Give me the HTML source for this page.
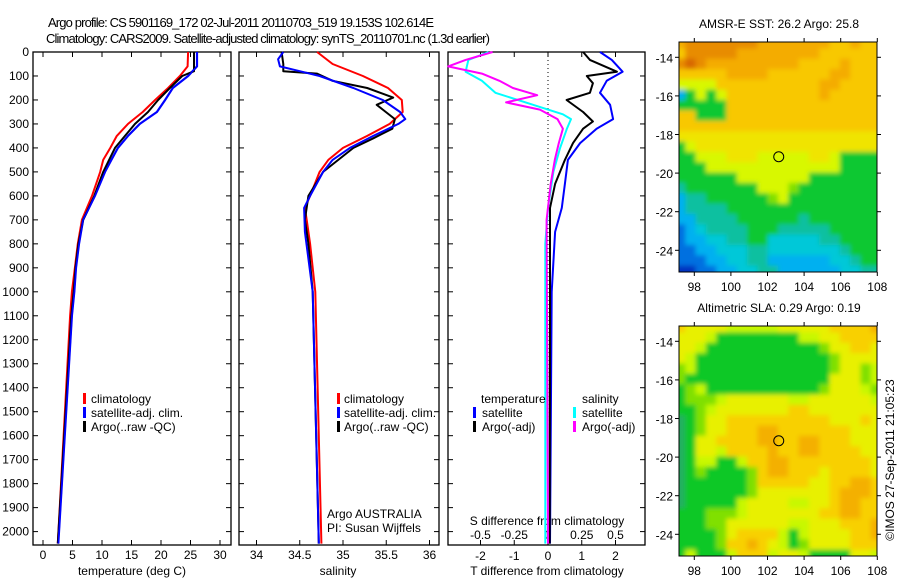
<!DOCTYPE html>
<html><head><meta charset="utf-8">
<style>
html,body{margin:0;padding:0;background:#fff;}
svg{display:block;font-family:"Liberation Sans",sans-serif;}
text{fill:#000;}
</style></head>
<body>
<svg id="chart" width="900" height="580" viewBox="0 0 900 580" xmlns="http://www.w3.org/2000/svg">
<defs>
<filter id="blur" x="-5%" y="-5%" width="110%" height="110%"><feGaussianBlur stdDeviation="2.5"/></filter>
<clipPath id="clip1"><rect x="679" y="42" width="198" height="230"/></clipPath>
<clipPath id="clip2"><rect x="679" y="326" width="198" height="230"/></clipPath>
</defs>
<text x="48" y="27" font-size="13" textLength="386">Argo profile: CS 5901169_172 02-Jul-2011 20110703_519 19.153S 102.614E</text>
<text x="46" y="43" font-size="13" textLength="444">Climatology: CARS2009. Satellite-adjusted climatology: synTS_20110701.nc (1.3d earlier)</text>
<g id="g1"></g>
<g id="g2"></g>
<g id="g3"></g>
<g id="m1"></g>
<g id="m2"></g>
<text x="894" y="460" font-size="12" text-anchor="middle" transform="rotate(-90 894 460)">©IMOS 27-Sep-2011 21:05:23</text>
</svg>
<script>
// ---- data ----
const tempDepth = [0,60,100,150,200,250,300,350,400,450,500,600,700,800,900,1000,1100,2050];
const tempClim  = [24.6,24.5,23.2,21.2,19.0,16.9,14.4,12.5,11.4,10.2,9.7,8.3,6.6,5.9,5.4,4.9,4.6,2.5];
const tempSat   = [26.1,26.1,24.6,22.0,20.7,19.3,16.4,14.4,12.7,11.6,10.5,8.8,6.8,6.1,5.6,5.3,4.9,2.6];
const argoDepth = [0,80,100,150,200,250,300,350,400,500,600,700,800,900,1000,1100,2050];
const tempArgo  = [25.6,25.6,23.6,21.5,19.5,17.8,15.6,13.9,12.2,10.2,8.7,6.8,6.0,5.5,5.2,4.8,2.5];
const salDepth  = [0,50,100,150,200,250,300,350,400,450,500,600,650,700,800,1000,2050];
const salClim   = [34.70,34.88,35.23,35.52,35.68,35.69,35.54,35.28,35.00,34.83,34.73,34.62,34.56,34.58,34.62,34.68,34.75];
const salSatDepth = [0,30,60,80,100,150,200,250,280,300,350,400,450,500,600,650,750,1000,2050];
const salSat    = [34.31,34.25,34.27,34.50,34.73,35.12,35.46,35.66,35.72,35.64,35.35,35.08,34.88,34.77,34.62,34.55,34.56,34.65,34.72];
const salArgoDepth = [0,50,80,90,120,150,190,220,240,280,320,360,400,500,600,700,800,1000,2050];
const salArgo   = [34.29,34.31,34.31,34.70,34.88,35.28,35.58,35.39,35.46,35.60,35.57,35.35,35.12,34.77,34.60,34.56,34.60,34.65,34.72];
const dTDepth   = [0,33,82,120,170,220,280,320,380,450,550,650,750,1000,2050];
const dTSat     = [1.54,1.89,2.21,1.74,1.54,1.84,1.93,1.44,0.95,0.59,0.50,0.41,0.21,0.11,0.06];
const dTArgoDepth = [0,33,82,100,130,170,200,250,290,320,380,450,550,650,800,1000,2050];
const dTArgo    = [1.04,1.24,2.04,1.15,1.33,1.24,0.55,1.04,1.33,1.04,0.74,0.50,0.21,0.06,0.06,0.06,0.05];
const dSArgoDepth = [0,33,60,90,120,150,180,210,240,280,320,380,450,550,700,2050];
const dSArgo    = [-0.41,-0.61,-0.74,-0.49,-0.36,-0.26,-0.08,-0.31,-0.06,0.07,0.11,0.08,0.05,0.02,-0.01,0.0];
const dSSatDepth = [0,33,82,120,170,220,260,280,320,400,500,650,800,2050];
const dSSat     = [-0.44,-0.59,-0.61,-0.49,-0.39,-0.11,0.11,0.17,0.14,0.09,0.04,0.0,-0.02,-0.02];
const depthTicks = [0,100,200,300,400,500,600,700,800,900,1000,1100,1200,1300,1400,1500,1600,1700,1800,1900,2000];
const tempTicks = [0,5,10,15,20,25,30];
const salTicks = [34,34.5,35,35.5,36];
const dTTicks = [-2,-1,0,1,2];
const dSTicks = [-0.5,-0.25,0,0.25,0.5];
const lonTicks = [98,100,102,104,106,108];
const latTicks = [-14,-16,-18,-20,-22,-24];
const argoLon = 102.614, argoLat = -19.153;
const sstGrid = [
"oOOOOOOOoooooooYYoYY","YOOOOOooooooooYYYYYY","ODOoooooooooYYYYoYYY","YYYYYooooYYYYYYooYYY",
"LLLLYYYYYYYYYYooYYYY","cGLGLYYYYYYYYYoYYYYY","GGGGGYYYYYYYYYYYYYYY","YYGGGYYYYYYYYYYYYYYY",
"YYYYYYYYYYYYYYYYYYYY","yyyyyyyyyyyyyyyyyyyy","GLyyyyyyyyyyyyyyyyyy","GGLLLyyyLLLLLyyLGGGG",
"GGGLLLLLLLLLLLLLGGGG","GGGGGGLLLLLLLGGGGGGG","TGGGGGGGLLLlGGGGGGGG","cTTGGGGGGlLGGGGGGGGG",
"cTTTTGGGGGGGGGGGGGGG","ccTTTTGGGGGGTGGGGGGG","BcCTTTTGGGTTTTTGGGGG","BccCCTTGGCCCCCTTGGGG",
"BBccCCCTTCCCCCCCTGGG","BBBccCCTTccccccCCTGG","DDBBccCCTTccccccCCTT"];
const slaGrid = [
"YyyyyLLLLLyyyyyYYYYo","yyyLGGGGGGGGLLyyYYYY","yyLGGGGGGGGGGGlyyYYy","yLGGGGGGGGGGGGGlyyyy",
"lLGGGGGGGGGGGGGlyylL","lGGGGGGGGGGGGGGyyylL","GlLGGGGGGGGGGGlyyyLl","GlllLyyyyyyLLyyyyyyL",
"GGlLyyyyyyyYYyyyyyyy","TGlyyYYYYYYYYYYyyyYy","TGlyyYYYooYYYYYYYyyy","TGyyYYYYooYYooYYYyyy",
"TGyyLYYYYoYYooYYYYyy","TGLLGGLYYooYYYYYYYYy","TGlGGGGlYooYYYyYYYYy","TGGGGGGlYYYYYyyYYooY",
"TGGGGGGlyyyyyyyYoooY","TGGGGGLyyyyLLyyYooYY","GGGlllLyyyyyyyYYooYY","GGGllyyyyyyLLyyyYYYo",
"GGGGlyYYYYLGLyyyyYYo","GGGGlYYoYyLGlyyyyYYY","GLGGGLYYYLyyLGGGGyyL"];
const sstPal = {O:"#e88c00",D:"#d86800",o:"#f4ac00",Y:"#f8c800",y:"#f0e400",L:"#d8f800",l:"#80e000",G:"#10c830",g:"#00b040",T:"#10c0a0",C:"#00c8d8",c:"#00b0f0",B:"#0070e0",D2:"#0030c0"};
const slaPal = {O:"#e88000",o:"#f4b000",Y:"#f8d000",y:"#e8f000",L:"#c8f800",l:"#80e000",G:"#10c828",T:"#20b060"};

const NS="http://www.w3.org/2000/svg";
function mk(tag, attrs, parent, txt){const e=document.createElementNS(NS,tag);for(const k in attrs)e.setAttribute(k,attrs[k]);if(txt!==undefined)e.textContent=txt;parent.appendChild(e);return e;}
const Y0=52, PXM=0.2398, YB=545;
const yD = d => Y0 + d*PXM;
const xT = t => 43 + t*5.9;
const xS = s => 343 + (s-35)*86.5;
const xDT = t => 548 + t*33.75;
const xDS = s => 548 + s*135;

function frame(g, x0, x1, name){
  const r = mk('rect',{x:x0,y:Y0,width:x1-x0,height:YB-Y0,fill:'none',stroke:'#000','stroke-width':1.3},g);
  
  
  depthTicks.forEach(d=>{
    mk('line',{x1:x0,x2:x0+5,y1:yD(d),y2:yD(d),stroke:'#000'},g);
    mk('line',{x1:x1,x2:x1-5,y1:yD(d),y2:yD(d),stroke:'#000'},g);
  });
}
function xticks(g, ticks, fx, labY, name){
  ticks.forEach(t=>{
    const x=fx(t);
    mk('line',{x1:x,x2:x,y1:Y0,y2:Y0+5,stroke:'#000'},g);
    mk('line',{x1:x,x2:x,y1:YB,y2:YB-5,stroke:'#000'},g);
    if(labY){const tx=mk('text',{x:x,y:labY,'font-size':12,'text-anchor':'middle'},g,String(t));
      
      }
  });
}
function line(g, depths, vals, fx, color, w, name){
  const pts = depths.map((d,i)=>fx(vals[i]).toFixed(1)+','+yD(d).toFixed(1)).join(' ');
  const p = mk('polyline',{points:pts,fill:'none',stroke:color,'stroke-width':w,'stroke-linejoin':'round'},g);
  
  
}
function legendBar(g,x,y,color){mk('rect',{x:x,y:y-10,width:3,height:11,fill:color},g);}
function txt(g,x,y,s,name,anchor){const t=mk('text',{x:x,y:y,'font-size':12,'text-anchor':anchor||'start'},g,s);
  
  return t;}

// Panel 1
const g1=document.getElementById('g1');
frame(g1,33,231,'temperature');
depthTicks.forEach(d=>{const t=mk('text',{x:29,y:yD(d)+4,'font-size':12,'text-anchor':'end'},g1,String(d));
  
  });
xticks(g1,tempTicks,xT,559,'temperature');
txt(g1,132,575,'temperature (deg C)','temperature-axis-title','middle');
line(g1,tempDepth,tempClim,xT,'#ff0000',2,'temperature-climatology-line');
line(g1,tempDepth,tempSat,xT,'#0000ff',2.2,'temperature-satellite-line');
line(g1,argoDepth,tempArgo,xT,'#000000',2,'temperature-argo-line');
line(g1,tempDepth,tempSat,xT,'#0000ff',1.6,'temperature-satellite-line-top');
legendBar(g1,83,403,'#ff0000');txt(g1,91,403,'climatology','legend-climatology');
legendBar(g1,83,417,'#0000ff');txt(g1,91,417,'satellite-adj. clim.','legend-satellite');
legendBar(g1,83,431,'#000000');txt(g1,91,431,'Argo(..raw -QC)','legend-argo');

// Panel 2
const g2=document.getElementById('g2');
frame(g2,239,439,'salinity');
xticks(g2,salTicks,xS,559,'salinity');
txt(g2,338,575,'salinity','salinity-axis-title','middle');
line(g2,salDepth,salClim,xS,'#ff0000',2,'salinity-climatology-line');
line(g2,salArgoDepth,salArgo,xS,'#000000',2,'salinity-argo-line');
line(g2,salSatDepth,salSat,xS,'#0000ff',2,'salinity-satellite-line');
legendBar(g2,337,403,'#ff0000');txt(g2,344,403,'climatology','legend-climatology');
legendBar(g2,337,417,'#0000ff');txt(g2,344,417,'satellite-adj. clim.','legend-satellite');
legendBar(g2,337,431,'#000000');txt(g2,344,431,'Argo(..raw -QC)','legend-argo');
txt(g2,327,518,'Argo AUSTRALIA','institution-label');
txt(g2,327,532,'PI: Susan Wijffels','pi-label');

// Panel 3
const g3=document.getElementById('g3');
frame(g3,448,645,'difference');
xticks(g3,dTTicks,xDT,null,'t-difference');
dTTicks.forEach(t=>txt(g3,xDT(t),560,String(t),'t-difference-tick-label','middle'));
dSTicks.forEach(s=>txt(g3,xDS(s),539,String(s),'s-difference-tick-label','middle'));
txt(g3,547,525,'S difference from climatology','s-difference-axis-title','middle');
txt(g3,547,575,'T difference from climatology','t-difference-axis-title','middle');
mk('line',{x1:548,x2:548,y1:Y0,y2:YB,stroke:'#000','stroke-dasharray':'1,3'},g3);
line(g3,dTDepth,dTSat,xDT,'#0000ff',2,'t-diff-satellite-line');
line(g3,dTArgoDepth,dTArgo,xDT,'#000000',2,'t-diff-argo-line');
line(g3,dSSatDepth,dSSat,xDS,'#00ffff',2,'s-diff-satellite-line');
line(g3,dSArgoDepth,dSArgo,xDS,'#ff00ff',2,'s-diff-argo-line');
txt(g3,481,403,'temperature','legend-temperature-header');
txt(g3,582,403,'salinity','legend-salinity-header');
legendBar(g3,473,417,'#0000ff');txt(g3,482,417,'satellite','legend-t-satellite');
legendBar(g3,473,431,'#000000');txt(g3,482,431,'Argo(-adj)','legend-t-argo');
legendBar(g3,573,417,'#00ffff');txt(g3,582,417,'satellite','legend-s-satellite');
legendBar(g3,573,431,'#ff00ff');txt(g3,582,431,'Argo(-adj)','legend-s-argo');

// Maps
function drawMap(gid, top, grid, pal, title, clip, name){
  const g=document.getElementById(gid);
  const L=679, W=198, H=230;
  const lonX = lon => 694.3 + (lon-98)*18.3;
  const latY = lat => top + 15.3 + (-14-lat)*19.3;
  const cg = mk('g',{'clip-path':'url(#'+clip+')'},g);
  const bg = mk('g',{filter:'url(#blur)'},cg);
  const rows=grid.length, cols=grid[0].length;
  const cw=(W+8)/cols, ch=(H+8)/rows;
  grid.forEach((row,r)=>{for(let c=0;c<cols;c++){
    let k=row[c]; let col=pal[k]; if(k==='D'&&pal.D2&&r>15) col=pal.D2;
    mk('rect',{x:L-4+c*cw,y:top-4+r*ch,width:cw+0.6,height:ch+0.6,fill:col},bg);
  }});
  const fr=mk('rect',{x:L,y:top,width:W,height:H,fill:'none',stroke:'#000','stroke-width':1},g);
  
  
  txt(g,779,top-14,title,name+'-title','middle');
  lonTicks.forEach(lon=>{const x=lonX(lon);
    mk('line',{x1:x,x2:x,y1:top+H,y2:top+H+4,stroke:'#000'},g);
    mk('line',{x1:x,x2:x,y1:top,y2:top-4,stroke:'#000'},g);
    txt(g,x,top+H+19,String(lon),name+'-lon-label','middle');});
  latTicks.forEach(lat=>{const y=latY(lat);
    mk('line',{x1:L,x2:L-4,y1:y,y2:y,stroke:'#000'},g);
    mk('line',{x1:L+W,x2:L+W+4,y1:y,y2:y,stroke:'#000'},g);
    txt(g,673,y+5,String(lat),name+'-lat-label','end');});
  const c=mk('circle',{cx:lonX(argoLon),cy:latY(argoLat),r:5,fill:'none',stroke:'#000','stroke-width':1},g);
  
  
}
drawMap('m1',42,sstGrid,sstPal,'AMSR-E SST: 26.2 Argo: 25.8','clip1','sst-map');
drawMap('m2',326,slaGrid,slaPal,'Altimetric SLA: 0.29 Argo: 0.19','clip2','sla-map');
</script>
</body></html>
